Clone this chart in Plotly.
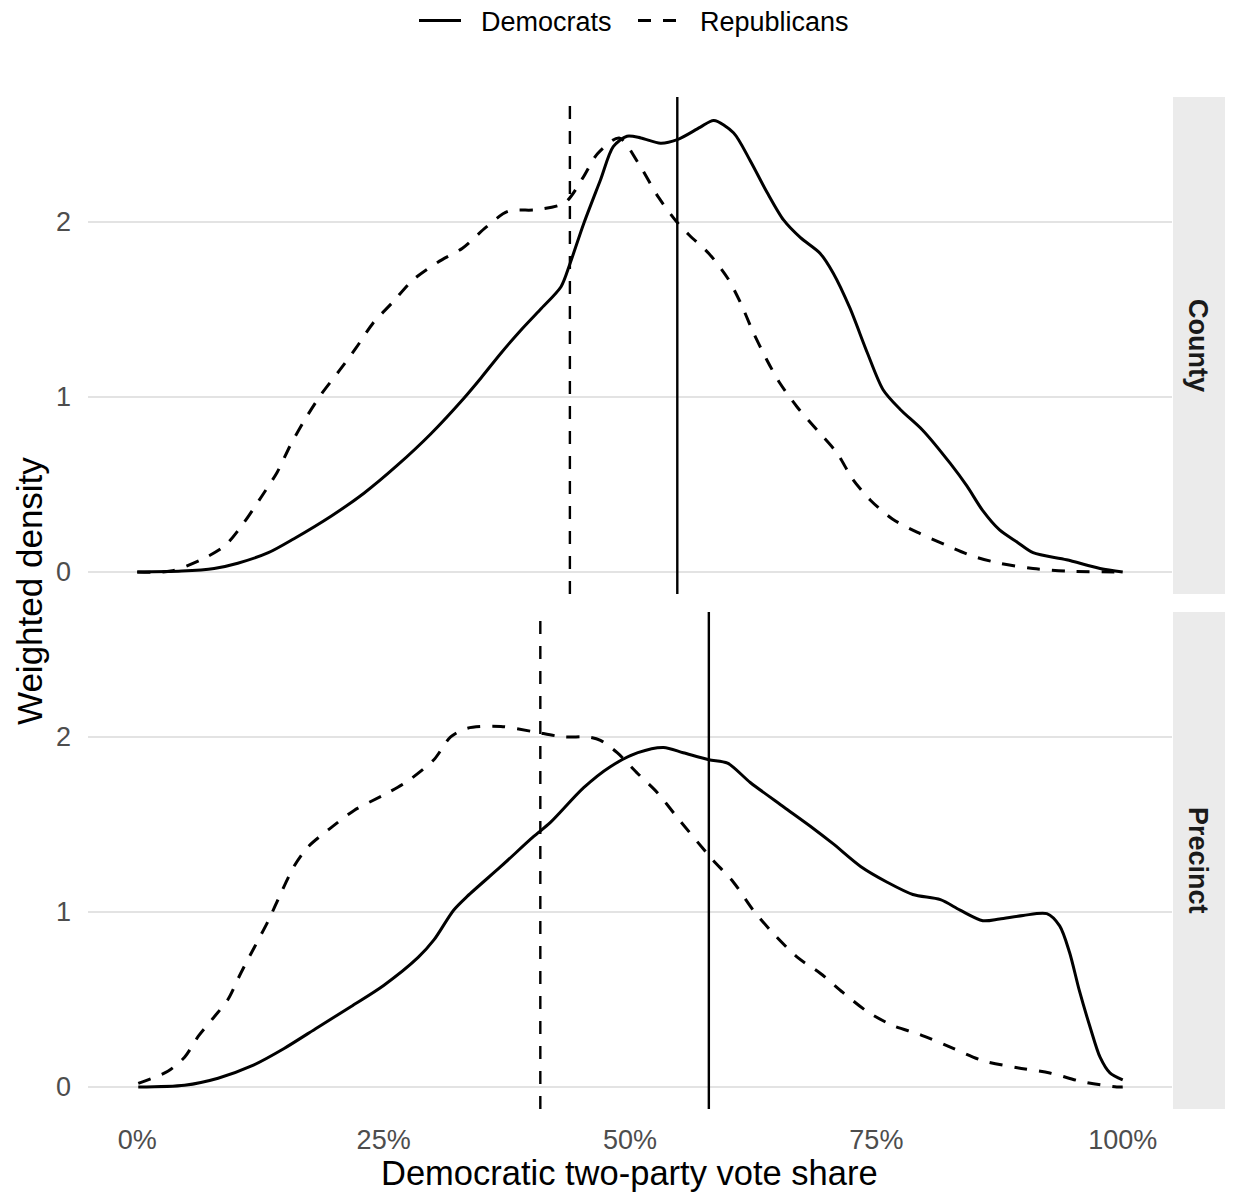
import plotly.graph_objects as go
from plotly.subplots import make_subplots

# ---------------- data ----------------
county_dem_x = [0.000, 0.045, 0.078, 0.102, 0.133, 0.159, 0.197, 0.230, 0.264, 0.298,
                0.331, 0.349, 0.369, 0.389, 0.409, 0.430, 0.439, 0.453, 0.470, 0.483,
                0.497, 0.511, 0.531, 0.548, 0.571, 0.585, 0.605, 0.622, 0.639, 0.656,
                0.673, 0.693, 0.706, 0.723, 0.741, 0.757, 0.774, 0.797, 0.825, 0.842,
                0.858, 0.875, 0.893, 0.909, 0.943, 0.977, 1.000]
county_dem_y = [0.0, 0.005, 0.02, 0.05, 0.11, 0.19, 0.32, 0.45, 0.61, 0.79,
                0.99, 1.11, 1.25, 1.38, 1.50, 1.63, 1.76, 1.99, 2.24, 2.43,
                2.49, 2.48, 2.45, 2.47, 2.54, 2.58, 2.51, 2.35, 2.17, 2.01,
                1.91, 1.82, 1.71, 1.51, 1.25, 1.04, 0.93, 0.81, 0.62, 0.49,
                0.35, 0.24, 0.17, 0.11, 0.07, 0.02, 0.0]

county_rep_x = [0.000, 0.034, 0.065, 0.089, 0.108, 0.126, 0.142, 0.155, 0.170, 0.186,
                0.205, 0.222, 0.239, 0.259, 0.280, 0.305, 0.330, 0.354, 0.376, 0.406,
                0.434, 0.452, 0.467, 0.489, 0.508, 0.529, 0.549, 0.561, 0.580, 0.599,
                0.612, 0.625, 0.639, 0.652, 0.670, 0.690, 0.710, 0.726, 0.744, 0.767,
                0.794, 0.822, 0.848, 0.875, 0.909, 0.943, 1.000]
county_rep_y = [0.0, 0.005, 0.07, 0.15, 0.28, 0.43, 0.57, 0.72, 0.87, 1.01,
                1.15, 1.28, 1.42, 1.54, 1.67, 1.77, 1.85, 1.97, 2.06, 2.07,
                2.11, 2.25, 2.39, 2.48, 2.34, 2.14, 1.99, 1.92, 1.82, 1.68,
                1.54, 1.37, 1.21, 1.08, 0.94, 0.81, 0.68, 0.53, 0.41, 0.30,
                0.22, 0.15, 0.09, 0.05, 0.02, 0.005, 0.0]

precinct_dem_x = [0.001, 0.048, 0.082, 0.116, 0.149, 0.183, 0.217, 0.250, 0.285, 0.301,
                  0.321, 0.335, 0.369, 0.402, 0.419, 0.453, 0.480, 0.508, 0.534, 0.554,
                  0.580, 0.599, 0.622, 0.656, 0.683, 0.706, 0.734, 0.761, 0.787, 0.815,
                  0.835, 0.858, 0.875, 0.899, 0.923, 0.936, 0.946, 0.956, 0.967, 0.977,
                  0.987, 1.000]
precinct_dem_y = [0.0, 0.01, 0.05, 0.12, 0.22, 0.34, 0.46, 0.58, 0.74, 0.84,
                  1.01, 1.09, 1.26, 1.43, 1.51, 1.71, 1.83, 1.91, 1.94, 1.91,
                  1.87, 1.85, 1.74, 1.60, 1.49, 1.39, 1.26, 1.17, 1.10, 1.07,
                  1.01, 0.95, 0.96, 0.98, 0.99, 0.92, 0.77, 0.55, 0.34, 0.17,
                  0.08, 0.04]

precinct_rep_x = [0.001, 0.031, 0.048, 0.062, 0.078, 0.092, 0.105, 0.119, 0.133, 0.146,
                  0.159, 0.173, 0.194, 0.220, 0.254, 0.275, 0.301, 0.318, 0.335, 0.369,
                  0.402, 0.433, 0.457, 0.470, 0.487, 0.508, 0.528, 0.548, 0.582, 0.605,
                  0.625, 0.645, 0.670, 0.693, 0.716, 0.741, 0.767, 0.794, 0.828, 0.858,
                  0.893, 0.926, 0.959, 0.994, 1.000]
precinct_rep_y = [0.02, 0.09, 0.17, 0.29, 0.40, 0.50, 0.65, 0.80, 0.95, 1.11,
                  1.26, 1.37, 1.47, 1.58, 1.68, 1.75, 1.87, 2.00, 2.05, 2.06,
                  2.03, 2.00, 2.00, 1.98, 1.91, 1.79, 1.68, 1.54, 1.31, 1.17,
                  1.01, 0.88, 0.74, 0.65, 0.54, 0.43, 0.35, 0.30, 0.22, 0.15,
                  0.11, 0.08, 0.03, 0.0, 0.0]

# weighted means (vertical reference lines)
county_means = {"Democrats": 0.548, "Republicans": 0.439}
precinct_means = {"Democrats": 0.580, "Republicans": 0.409}

facets = ["County", "Precinct"]
parties = ["Democrats", "Republicans"]
x_tick_vals = [0, 0.25, 0.5, 0.75, 1.0]
x_tick_text = ["0%", "25%", "50%", "75%", "100%"]
y_tick_vals = [0, 1, 2]
y_tick_text = ["0", "1", "2"]

# ---------------- styling ----------------
FONT = "Liberation Sans, Arial, sans-serif"
DASH = "13px,12px"
styles = {"Democrats": "solid", "Republicans": DASH}

OFF = 8  # page body margin in the browser
W, H = 1233 - OFF, 1194 - OFF
ML, MT = 88 - OFF, 97 - OFF
MR = W - (1172 - OFF)
MB = H - (1109 - OFF)
plot_w = W - ML - MR
plot_h = H - MT - MB


def px_x(page_x):
    return (page_x - OFF - ML) / plot_w


def px_y(page_y):
    return (H - MB - (page_y - OFF)) / plot_h


fig = make_subplots(rows=2, cols=1, shared_xaxes=True, vertical_spacing=18 / plot_h)

panel_data = [
    {"Democrats": (county_dem_x, county_dem_y), "Republicans": (county_rep_x, county_rep_y)},
    {"Democrats": (precinct_dem_x, precinct_dem_y), "Republicans": (precinct_rep_x, precinct_rep_y)},
]
panel_means = [county_means, precinct_means]

for i, pdata in enumerate(panel_data):
    row = i + 1
    for party in parties:
        xs, ys = pdata[party]
        fig.add_trace(
            go.Scatter(
                x=xs, y=ys, mode="lines", name="\u00a0\u00a0" + party,
                line=dict(color="black", width=3.0, dash=styles[party], shape="spline", smoothing=0.8),
                legendgroup=party, showlegend=(i == 0), hoverinfo="skip",
            ),
            row=row, col=1,
        )
    for party in parties:
        fig.add_vline(x=panel_means[i][party],
                      line=dict(color="black", width=2.4, dash=styles[party]),
                      row=row, col=1)

yrange = [-0.126, 2.714]
for r in (1, 2):
    fig.update_yaxes(
        range=yrange, tickvals=y_tick_vals, ticktext=y_tick_text,
        showgrid=True, gridcolor="#e3e3e3", gridwidth=1.5, zeroline=False,
        showline=False, ticks="", ticklabelstandoff=16,
        tickfont=dict(family=FONT, size=27, color="#4d4d4d"),
        row=r, col=1,
    )
    fig.update_xaxes(
        range=[-0.05, 1.05], tickvals=x_tick_vals, ticktext=x_tick_text,
        showgrid=False, zeroline=False, showline=False, ticks="",
        tickfont=dict(family=FONT, size=27, color="#4d4d4d"),
        row=r, col=1,
    )
fig.update_xaxes(ticklabelstandoff=12, row=2, col=1)

# facet strips on the right
sx0 = px_x(1173)
sx1 = px_x(1228)
for i, name in enumerate(facets):
    yref = "y domain" if i == 0 else "y2 domain"
    fig.add_shape(type="rect", xref="paper", yref=yref, x0=sx0, x1=sx1, y0=0, y1=1,
                  fillcolor="#ebebeb", line=dict(width=0), layer="below")
    fig.add_annotation(text="<b>" + name + "</b>", xref="paper", yref=yref,
                       x=(sx0 + sx1) / 2 - 2 / plot_w, y=0.5, showarrow=False, textangle=90,
                       font=dict(family=FONT, size=27, color="#1a1a1a"),
                       xanchor="center", yanchor="middle")

# axis titles
fig.add_annotation(text="Democratic two-party vote share", xref="paper", yref="paper",
                   x=px_x(629), y=px_y(1173), showarrow=False,
                   font=dict(family=FONT, size=34.5, color="black"),
                   xanchor="center", yanchor="middle")
fig.add_annotation(text="Weighted density", xref="paper", yref="paper",
                   x=px_x(29), y=px_y(591), showarrow=False,
                   textangle=-90, font=dict(family=FONT, size=35, color="black"),
                   xanchor="center", yanchor="middle")

fig.update_layout(
    width=W, height=H,
    margin=dict(l=ML, r=MR, t=MT, b=MB),
    paper_bgcolor="white", plot_bgcolor="white",
    font=dict(family=FONT),
    legend=dict(orientation="h", x=px_x(633), xanchor="center", xref="paper",
                y=1 - (21 - OFF) / H, yref="container", yanchor="middle",
                font=dict(family=FONT, size=27, color="black"),
                itemwidth=42, entrywidth=162, entrywidthmode="pixels",
                bgcolor="rgba(0,0,0,0)"),
    showlegend=True,
)

fig.write_html("out.html")
